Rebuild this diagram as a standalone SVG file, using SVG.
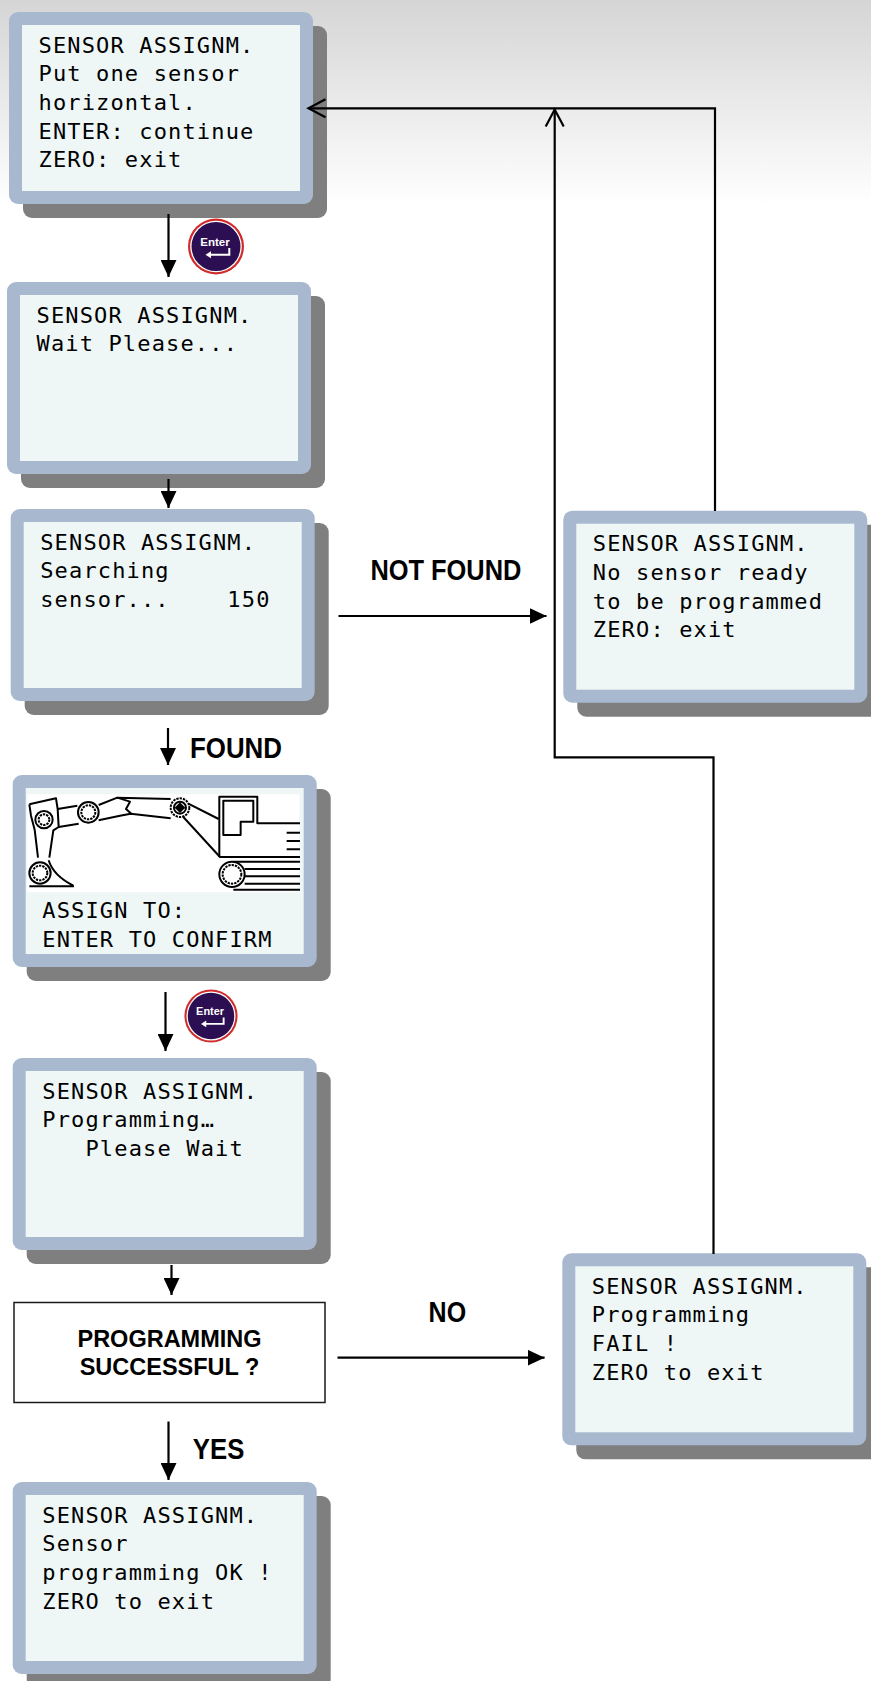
<svg xmlns="http://www.w3.org/2000/svg" width="871" height="1681" viewBox="0 0 871 1681">
  <defs>
    <linearGradient id="bg" x1="0" y1="0" x2="0" y2="205" gradientUnits="userSpaceOnUse">
      <stop offset="0" stop-color="#d5d5d5"/>
      <stop offset="1" stop-color="#ffffff"/>
    </linearGradient>
    <marker id="head" markerUnits="userSpaceOnUse" markerWidth="17" markerHeight="16" viewBox="0 0 17 16" refX="17" refY="8" orient="auto">
      <path d="M0,0 L17,8 L0,16 Z" fill="#000"/>
    </marker>
    <marker id="open" markerUnits="userSpaceOnUse" markerWidth="24" markerHeight="24" viewBox="-3 -3 24 24" refX="17" refY="9" orient="auto">
      <path d="M0,0 L17,9 L0,18" fill="none" stroke="#000" stroke-width="2.2"/>
    </marker>
    <style>
      .shadow { fill: #7f7f7f; }
      .frame { fill: #a8b9cf; }
      .screen { fill: #eef7f6; }
      .lcd { font-family: "DejaVu Sans Mono", "Liberation Mono", monospace; font-size: 22px; letter-spacing: 1.15px; fill: #000; }
      .lbl { font-family: "Liberation Sans", Arial, sans-serif; font-weight: bold; font-size: 29px; fill: #000; }
      .q { font-family: "Liberation Sans", Arial, sans-serif; font-weight: bold; font-size: 23.5px; fill: #000; text-anchor: middle; }
      .wire { fill: none; stroke: #000; stroke-width: 2.2; }
      .key-text { font-family: "Liberation Sans", Arial, sans-serif; font-weight: bold; font-size: 11.5px; fill: #fff; text-anchor: middle; }
      .art { fill: none; stroke: #000; stroke-width: 6; stroke-linejoin: round; }
    </style>
  </defs>

  <rect width="871" height="1681" fill="url(#bg)"/>

  <!-- screen: put sensor horizontal -->
  <g id="screen-start" transform="translate(9,12)">
    <rect class="shadow" x="14" y="14" width="304" height="192" rx="9"/>
    <rect class="frame" width="304" height="192" rx="9"/>
    <rect class="screen" x="13" y="13" width="278" height="166"/>
    <text class="lcd" x="29.5" y="40.5">SENSOR ASSIGNM.</text>
    <text class="lcd" x="29.5" y="69.2">Put one sensor</text>
    <text class="lcd" x="29.5" y="97.9">horizontal.</text>
    <text class="lcd" x="29.5" y="126.6">ENTER: continue</text>
    <text class="lcd" x="29.5" y="155.3">ZERO: exit</text>
  </g>

  <!-- enter key after start screen -->
  <g id="enter-key-1" transform="translate(216,246.5)">
    <circle r="28" fill="#cf2d2d"/>
    <circle r="25.8" fill="#ffffff"/>
    <circle r="24.5" fill="#2c0f52"/>
    <text class="key-text" x="-1" y="-0.7">Enter</text>
    <path d="M13.3,1.6 V8.3 H-7" fill="none" stroke="#fff" stroke-width="2"/>
    <path d="M-10.5,8.3 L-5,4.8 L-5,11.8 Z" fill="#fff"/>
  </g>

  <!-- screen: wait -->
  <g id="screen-wait" transform="translate(7,282)">
    <rect class="shadow" x="14" y="14" width="304" height="192" rx="9"/>
    <rect class="frame" width="304" height="192" rx="9"/>
    <rect class="screen" x="13" y="13" width="278" height="166"/>
    <text class="lcd" x="29.5" y="40.5">SENSOR ASSIGNM.</text>
    <text class="lcd" x="29.5" y="69.2">Wait Please...</text>
  </g>

  <!-- screen: searching -->
  <g id="screen-search" transform="translate(10.7,509)">
    <rect class="shadow" x="14" y="14" width="304" height="192" rx="9"/>
    <rect class="frame" width="304" height="192" rx="9"/>
    <rect class="screen" x="13" y="13" width="278" height="166"/>
    <text class="lcd" x="29.5" y="40.5">SENSOR ASSIGNM.</text>
    <text class="lcd" x="29.5" y="69.2">Searching</text>
    <text class="lcd" x="29.5" y="97.9" xml:space="preserve">sensor...    150</text>
  </g>

  <!-- screen: not found -->
  <g id="screen-not-found" transform="translate(563.3,510.7)">
    <rect class="shadow" x="14" y="14" width="304" height="192" rx="9"/>
    <rect class="frame" width="304" height="192" rx="9"/>
    <rect class="screen" x="13" y="13" width="278" height="166"/>
    <text class="lcd" x="29.5" y="40.5">SENSOR ASSIGNM.</text>
    <text class="lcd" x="29.5" y="69.2">No sensor ready</text>
    <text class="lcd" x="29.5" y="97.9">to be programmed</text>
    <text class="lcd" x="29.5" y="126.6">ZERO: exit</text>
  </g>

  <!-- screen: assign to machine part -->
  <g id="screen-assign" transform="translate(12.7,775)">
    <rect class="shadow" x="14" y="14" width="304" height="192" rx="9"/>
    <rect class="frame" width="304" height="192" rx="9"/>
    <rect class="screen" x="13" y="13" width="278" height="166"/>
    <text class="lcd" x="29.6" y="143">ASSIGN TO:</text>
    <text class="lcd" x="29.6" y="171.7">ENTER TO CONFIRM</text>
  </g>

  <!-- excavator pictogram -->
  <g id="excavator" transform="translate(20,785) scale(0.3333)">
    <rect x="22" y="28" width="816" height="294" fill="#fff"/>
    <!-- bucket linkage and stick -->
    <path class="art" d="M28,58 L108,40 L113,72 L116,126 L100,136 L88,218"/>
    <path class="art" d="M28,58 L33,92 L44,134 L54,218"/>
    <circle class="art" cx="72" cy="104" r="26"/>
    <circle class="art" cx="72" cy="104" r="16" stroke-dasharray="7 3"/>
    <path class="art" d="M113,72 L172,62 M116,126 L176,116"/>
    <circle class="art" cx="205" cy="82" r="31"/>
    <circle class="art" cx="205" cy="82" r="21" stroke-dasharray="7 3"/>
    <!-- boom -->
    <path class="art" d="M236,60 L292,38 L452,42"/>
    <path class="art" d="M236,106 L300,92 L332,86 L452,100"/>
    <path class="art" d="M292,38 L330,50 L318,72 L334,86"/>
    <circle class="art" cx="480" cy="68" r="28" stroke-dasharray="7 3"/>
    <circle class="art" cx="480" cy="68" r="18"/>
    <path d="M480,52 L496,68 L480,84 L464,68 Z" fill="#000"/>
    <path class="art" d="M505,56 L596,102"/>
    <path class="art" d="M490,96 L600,216"/>
    <!-- cab and body -->
    <path class="art" d="M598,216 L598,35 L712,35 L712,115 L840,115"/>
    <path class="art" d="M610,150 L610,47 L700,47 L700,110 L662,110 L662,150 Z"/>
    <path class="art" d="M598,216 L840,216"/>
    <path class="art" d="M800,143 L840,143 M800,168 L840,168 M800,193 L840,193"/>
    <!-- track -->
    <circle class="art" cx="636" cy="268" r="38"/>
    <circle class="art" cx="636" cy="268" r="28" stroke-dasharray="7 3"/>
    <path class="art" d="M640,230 L840,230 M674,252 L840,252 M674,274 L840,274 M674,296 L840,296 M640,314 L840,314"/>
    <!-- lower bucket -->
    <circle class="art" cx="60" cy="264" r="32"/>
    <circle class="art" cx="60" cy="264" r="22" stroke-dasharray="7 3"/>
    <path class="art" d="M86,226 Q100,272 160,302 M28,304 L162,304"/>
  </g>

  <!-- enter key after assign screen -->
  <g id="enter-key-2" transform="translate(211,1016) scale(0.95)">
    <circle r="28" fill="#cf2d2d"/>
    <circle r="25.8" fill="#ffffff"/>
    <circle r="24.5" fill="#2c0f52"/>
    <text class="key-text" x="-1" y="-0.7">Enter</text>
    <path d="M13.3,1.6 V8.3 H-7" fill="none" stroke="#fff" stroke-width="2"/>
    <path d="M-10.5,8.3 L-5,4.8 L-5,11.8 Z" fill="#fff"/>
  </g>

  <!-- screen: programming -->
  <g id="screen-programming" transform="translate(12.7,1058)">
    <rect class="shadow" x="14" y="14" width="304" height="192" rx="9"/>
    <rect class="frame" width="304" height="192" rx="9"/>
    <rect class="screen" x="13" y="13" width="278" height="166"/>
    <text class="lcd" x="29.6" y="40.5">SENSOR ASSIGNM.</text>
    <text class="lcd" x="29.6" y="69.2">Programming…</text>
    <text class="lcd" x="29.6" y="97.9" xml:space="preserve">   Please Wait</text>
  </g>

  <!-- decision -->
  <g id="decision-success">
    <rect x="14" y="1302.5" width="311" height="100" fill="#fff" stroke="#1a1a1a" stroke-width="1.5"/>
    <text class="q" x="169.5" y="1346.7">PROGRAMMING</text>
    <text class="q" x="169.5" y="1375">SUCCESSFUL ?</text>
  </g>

  <!-- screen: programming failed -->
  <g id="screen-fail" transform="translate(562.3,1253.3)">
    <rect class="shadow" x="14" y="14" width="304" height="192" rx="9"/>
    <rect class="frame" width="304" height="192" rx="9"/>
    <rect class="screen" x="13" y="13" width="278" height="166"/>
    <text class="lcd" x="29.5" y="40.5">SENSOR ASSIGNM.</text>
    <text class="lcd" x="29.5" y="69.2">Programming</text>
    <text class="lcd" x="29.5" y="97.9">FAIL !</text>
    <text class="lcd" x="29.5" y="126.6">ZERO to exit</text>
  </g>

  <!-- screen: programming ok -->
  <g id="screen-ok" transform="translate(12.7,1482)">
    <rect class="shadow" x="14" y="14" width="304" height="192" rx="9"/>
    <rect class="frame" width="304" height="192" rx="9"/>
    <rect class="screen" x="13" y="13" width="278" height="166"/>
    <text class="lcd" x="29.6" y="40.5">SENSOR ASSIGNM.</text>
    <text class="lcd" x="29.6" y="69.2">Sensor</text>
    <text class="lcd" x="29.6" y="97.9">programming OK !</text>
    <text class="lcd" x="29.6" y="126.6">ZERO to exit</text>
  </g>

  <!-- connectors, drawn last so they sit over the frames and shadows -->
  <g id="connectors">
    <path class="wire" d="M168.5,214 V277" marker-end="url(#head)"/>
    <path class="wire" d="M168.5,479 V508" marker-end="url(#head)"/>
    <path class="wire" d="M168,728 V765" marker-end="url(#head)"/>
    <path class="wire" d="M165.5,992 V1051" marker-end="url(#head)"/>
    <path class="wire" d="M171.5,1265 V1295" marker-end="url(#head)"/>
    <path class="wire" d="M168.5,1421.5 V1480" marker-end="url(#head)"/>
    <path class="wire" d="M338.5,616 H546.5" marker-end="url(#head)"/>
    <path class="wire" d="M337.5,1357.7 H544.6" marker-end="url(#head)"/>
    <path class="wire" d="M715,511 V108.3 H308.5" marker-end="url(#open)"/>
    <path class="wire" d="M713.5,1254 V757.3 H554.7 V109.5" marker-end="url(#open)"/>
    <text class="lbl" x="370.4" y="580" textLength="151" lengthAdjust="spacingAndGlyphs">NOT FOUND</text>
    <text class="lbl" x="190" y="758" textLength="92" lengthAdjust="spacingAndGlyphs">FOUND</text>
    <text class="lbl" x="428.6" y="1321.5" textLength="37.5" lengthAdjust="spacingAndGlyphs">NO</text>
    <text class="lbl" x="192.8" y="1458.5" textLength="51.5" lengthAdjust="spacingAndGlyphs">YES</text>
  </g>
</svg>
